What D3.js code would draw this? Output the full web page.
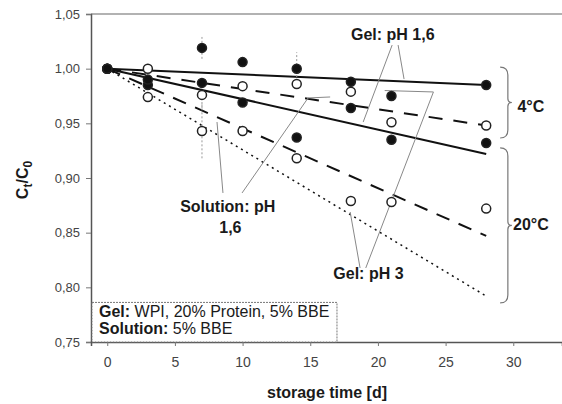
<!DOCTYPE html>
<html>
<head>
<meta charset="utf-8">
<script src="https://cdn.jsdelivr.net/npm/d3@7"></script>
<style>
  body { margin: 0; background: #fff; }
  text { font-family: Arial, "Liberation Sans", sans-serif; fill: #1a1a1a; }
</style>
</head>
<body>
<svg id="chart" width="562" height="404"></svg>
<script>
// storage days
var days = [0, 3, 7, 10, 14, 18, 21, 28];

// measured C_t/C_0
var gel4 = [1.0, 0.990, 1.019, 1.006, 1.000, 0.988, 0.975, 0.985];
var sol4 = [1.0, 1.000, 0.976, 0.984, 0.986, 0.979, 0.951, 0.948];
var gel20 = [1.0, 0.985, 0.987, 0.969, 0.937, 0.964, 0.935, 0.932];
var sol20 = [1.0, 0.974, 0.943, 0.943, 0.918, 0.879, 0.878, 0.872];

// a few error bars (half width)
var errGel4 = [0, 0, 0.010, 0, 0.015, 0, 0, 0];
var errSol4 = [0, 0, 0.012, 0, 0, 0, 0, 0];
var errSol20 = [0, 0, 0.025, 0, 0, 0, 0, 0];

// fitted lines, start and end
var fitDays = [0, 28];
var fitGel4 = [1.0, 0.985];
var fitSol4 = [1.0, 0.948];
var fitGel20 = [1.0, 0.922];
var fitSol20 = [1.0, 0.847];
var fitGelPh3 = [1.0, 0.792];

var xTicks = [0, 5, 10, 15, 20, 25, 30];
var yTicks = [0.75, 0.80, 0.85, 0.90, 0.95, 1.00, 1.05];

var svg = d3.select('#chart');
var x = d3.scaleLinear().domain([-1.2, 33.6]).range([91, 562]);
var y = d3.scaleLinear().domain([0.75, 1.05]).range([342, 14]);

var fmt = function(d) { return d3.format('.2f')(d).replace('.', ','); };

// axes
var yAxis = svg.append('g')
	.attr('transform', 'translate(91,0)')
	.call(d3.axisLeft(y).tickValues(yTicks).tickFormat(fmt).tickSize(5).tickPadding(6));
yAxis.selectAll('text').style('font-size', '13px').style('fill', '#444');

var xAxis = svg.append('g')
	.attr('transform', 'translate(0,342)')
	.call(d3.axisBottom(x).tickValues(xTicks).tickSize(4).tickPadding(11));
xAxis.selectAll('text').style('font-size', '14px').style('fill', '#444');

svg.selectAll('.domain').attr('stroke', '#555').attr('stroke-width', 1.5);
svg.selectAll('.tick line').attr('stroke', '#777');

// top border
svg.append('line')
	.attr('x1', x.range()[0]).attr('x2', x.range()[1])
	.attr('y1', y(1.05)).attr('y2', y(1.05))
	.attr('stroke', '#666').attr('stroke-width', 1.2);

// fit lines
var line = d3.line()
	.x(function(d) { return x(d[0]); })
	.y(function(d) { return y(d[1]); });

function fit(vals, dash, w) {
	svg.append('path')
		.datum(d3.zip(fitDays, vals))
		.attr('d', line)
		.attr('fill', 'none')
		.attr('stroke', '#111')
		.attr('stroke-width', w)
		.attr('stroke-dasharray', dash);
}
fit(fitGel4, null, 2);
fit(fitSol4, '14,11', 2);
fit(fitGel20, null, 2);
fit(fitSol20, '14,10', 2);
fit(fitGelPh3, '2,4', 1.5);

// leader lines
var leaders = [
	[[21.05, 1.0216], [18.91, 0.9512]],
	[[21.49, 1.0216], [21.93, 0.9905]],
	[[8.55, 0.8863], [8.11, 0.9512]],
	[[9.96, 0.8863], [14.84, 0.9732], [16.47, 0.9741]],
	[[18.68, 0.8177], [17.95, 0.8689]],
	[[19.1, 0.8177], [24.1, 0.9787], [20.5, 0.9800]]
];
leaders.forEach(function(pts) {
	svg.append('path')
		.datum(pts)
		.attr('d', line)
		.attr('fill', 'none')
		.attr('stroke', '#888')
		.attr('stroke-width', 1);
});

// error bars
function errs(vals, e) {
	svg.append('g').selectAll('line')
		.data(days.filter(function(d, i) { return e[i] > 0; }))
		.join('line')
		.attr('x1', function(d) { return x(d); })
		.attr('x2', function(d) { return x(d); })
		.attr('y1', function(d) { var i = days.indexOf(d); return y(vals[i] - e[i]); })
		.attr('y2', function(d) { var i = days.indexOf(d); return y(vals[i] + e[i]); })
		.attr('stroke', '#999')
		.attr('stroke-dasharray', '2,2');
}
errs(gel4, errGel4);
errs(sol4, errSol4);
errs(sol20, errSol20);

// points
function dots(vals, filled) {
	svg.append('g').selectAll('circle')
		.data(d3.zip(days, vals))
		.join('circle')
		.attr('cx', function(d) { return x(d[0]); })
		.attr('cy', function(d) { return y(d[1]); })
		.attr('r', 4.5)
		.attr('fill', filled ? '#111' : '#fff')
		.attr('stroke', '#222')
		.attr('stroke-width', 1.5);
}
dots(sol20, false);
dots(gel20, true);
dots(sol4, false);
dots(gel4, true);

// temperature braces
function brace(top, bot) {
	var x0 = x(29.03), x1 = x(29.6), y0 = y(top), y1 = y(bot), m = (y0 + y1) / 2;
	var p = d3.path();
	p.moveTo(x0, y0);
	p.quadraticCurveTo(x1, y0, x1, y0 + 8);
	p.lineTo(x1, m - 4);
	p.quadraticCurveTo(x1, m, x1 + 4, m);
	p.quadraticCurveTo(x1, m, x1, m + 4);
	p.lineTo(x1, y1 - 8);
	p.quadraticCurveTo(x1, y1, x0, y1);
	svg.append('path').attr('d', p.toString())
		.attr('fill', 'none').attr('stroke', '#777').attr('stroke-width', 1.2);
}
brace(1.0015, 0.9366);
brace(0.9275, 0.7857);

// labels
var labels = [
	{ t: 'Gel: pH 1,6', d: 21.1, v: 1.0265 },
	{ t: '4°C', d: 31.3, v: 0.960 },
	{ t: '20°C', d: 31.3, v: 0.852 },
	{ t: 'Solution: pH', d: 8.9, v: 0.8689 },
	{ t: '1,6', d: 9.1, v: 0.8497 },
	{ t: 'Gel: pH 3', d: 19.3, v: 0.8080 }
];
svg.append('g').selectAll('text')
	.data(labels)
	.join('text')
	.attr('x', function(d) { return x(d.d); })
	.attr('y', function(d) { return y(d.v); })
	.attr('text-anchor', 'middle')
	.style('font-size', '16px')
	.style('font-weight', 'bold')
	.text(function(d) { return d.t; });

// legend box
svg.append('rect')
	.attr('x', x(-1.2) + 1).attr('y', y(0.7862))
	.attr('width', x(16.9) - x(-1.2)).attr('height', y(0.75) - y(0.7862))
	.attr('fill', '#fff').attr('stroke', '#777').attr('stroke-dasharray', '2,1');

var leg = svg.append('text').attr('x', 99).attr('y', 317).style('font-size', '16px');
leg.append('tspan').style('font-weight', 'bold').text('Gel:');
leg.append('tspan').text(' WPI, 20% Protein, 5% BBE');
var leg2 = svg.append('text').attr('x', 99).attr('y', 334).style('font-size', '16px');
leg2.append('tspan').style('font-weight', 'bold').text('Solution:');
leg2.append('tspan').text(' 5% BBE');

// axis titles
svg.append('text')
	.attr('x', 327).attr('y', 398)
	.attr('text-anchor', 'middle')
	.style('font-size', '16px').style('font-weight', 'bold')
	.text('storage time [d]');

var yt = svg.append('text')
	.attr('transform', 'translate(28,180) rotate(-90)')
	.attr('text-anchor', 'middle')
	.style('font-size', '16px').style('font-weight', 'bold');
yt.append('tspan').text('C');
yt.append('tspan').attr('dy', 4).style('font-size', '12px').text('t');
yt.append('tspan').attr('dy', -4).text('/C');
yt.append('tspan').attr('dy', 4).style('font-size', '12px').text('0');
</script>
</body>
</html>
